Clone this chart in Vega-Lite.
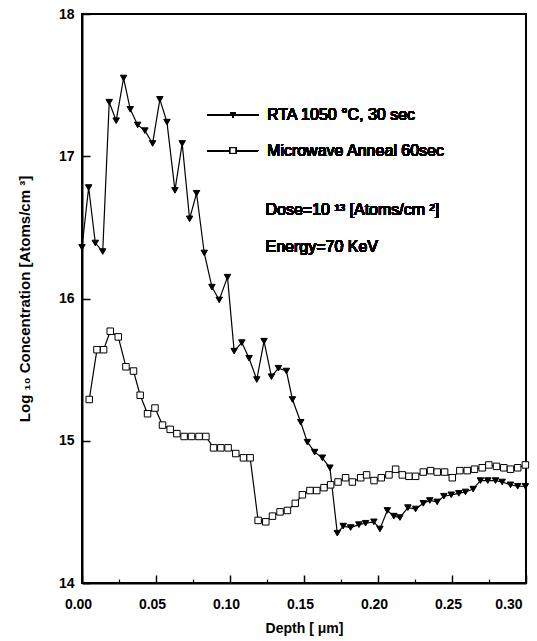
{
  "$schema": "https://vega.github.io/schema/vega-lite/v6.json",
  "width": 444,
  "height": 569,
  "autosize": "none",
  "padding": {"left": 82, "top": 14, "right": 11, "bottom": 58},
  "config": {
    "font": "Liberation Sans",
    "view": {"stroke": "black", "strokeWidth": 2},
    "axis": {
      "domainColor": "black", "domainWidth": 2, "tickColor": "black", "tickWidth": 1.5,
      "tickSize": -8, "grid": false, "labelColor": "black", "labelFont": "Liberation Sans",
      "labelFontSize": 14, "labelFontWeight": "bold", "titleColor": "black",
      "titleFont": "Liberation Sans", "titleFontSize": 14, "titleFontWeight": "bold"
    }
  },
  "resolve": {"axis": {"x": "independent"}},
  "data": {"values": [
    {"series": "RTA", "depth": 0.000, "conc": 16.36},
    {"series": "RTA", "depth": 0.0045, "conc": 16.78},
    {"series": "RTA", "depth": 0.0090, "conc": 16.39},
    {"series": "RTA", "depth": 0.0140, "conc": 16.33},
    {"series": "RTA", "depth": 0.0184, "conc": 17.38},
    {"series": "RTA", "depth": 0.0231, "conc": 17.25},
    {"series": "RTA", "depth": 0.0281, "conc": 17.55},
    {"series": "RTA", "depth": 0.0326, "conc": 17.33},
    {"series": "RTA", "depth": 0.0376, "conc": 17.22},
    {"series": "RTA", "depth": 0.0425, "conc": 17.18},
    {"series": "RTA", "depth": 0.0477, "conc": 17.09},
    {"series": "RTA", "depth": 0.0526, "conc": 17.40},
    {"series": "RTA", "depth": 0.0574, "conc": 17.24},
    {"series": "RTA", "depth": 0.0628, "conc": 16.76},
    {"series": "RTA", "depth": 0.0677, "conc": 17.09},
    {"series": "RTA", "depth": 0.0727, "conc": 16.56},
    {"series": "RTA", "depth": 0.0774, "conc": 16.74},
    {"series": "RTA", "depth": 0.0826, "conc": 16.32},
    {"series": "RTA", "depth": 0.0878, "conc": 16.08},
    {"series": "RTA", "depth": 0.0927, "conc": 15.99},
    {"series": "RTA", "depth": 0.0983, "conc": 16.15},
    {"series": "RTA", "depth": 0.1028, "conc": 15.63},
    {"series": "RTA", "depth": 0.1080, "conc": 15.69},
    {"series": "RTA", "depth": 0.1129, "conc": 15.58},
    {"series": "RTA", "depth": 0.1181, "conc": 15.43},
    {"series": "RTA", "depth": 0.1230, "conc": 15.70},
    {"series": "RTA", "depth": 0.1280, "conc": 15.45},
    {"series": "RTA", "depth": 0.1327, "conc": 15.51},
    {"series": "RTA", "depth": 0.1381, "conc": 15.49},
    {"series": "RTA", "depth": 0.1422, "conc": 15.29},
    {"series": "RTA", "depth": 0.1478, "conc": 15.13},
    {"series": "RTA", "depth": 0.1523, "conc": 14.99},
    {"series": "RTA", "depth": 0.1572, "conc": 14.92},
    {"series": "RTA", "depth": 0.1624, "conc": 14.88},
    {"series": "RTA", "depth": 0.1675, "conc": 14.81},
    {"series": "RTA", "depth": 0.1725, "conc": 14.35},
    {"series": "RTA", "depth": 0.1765, "conc": 14.40},
    {"series": "RTA", "depth": 0.1815, "conc": 14.39},
    {"series": "RTA", "depth": 0.1871, "conc": 14.41},
    {"series": "RTA", "depth": 0.1916, "conc": 14.42},
    {"series": "RTA", "depth": 0.1972, "conc": 14.43},
    {"series": "RTA", "depth": 0.2013, "conc": 14.38},
    {"series": "RTA", "depth": 0.2063, "conc": 14.51},
    {"series": "RTA", "depth": 0.2107, "conc": 14.47},
    {"series": "RTA", "depth": 0.2148, "conc": 14.46},
    {"series": "RTA", "depth": 0.2202, "conc": 14.53},
    {"series": "RTA", "depth": 0.2254, "conc": 14.52},
    {"series": "RTA", "depth": 0.2306, "conc": 14.56},
    {"series": "RTA", "depth": 0.2350, "conc": 14.58},
    {"series": "RTA", "depth": 0.2400, "conc": 14.57},
    {"series": "RTA", "depth": 0.2445, "conc": 14.61},
    {"series": "RTA", "depth": 0.2495, "conc": 14.62},
    {"series": "RTA", "depth": 0.2546, "conc": 14.63},
    {"series": "RTA", "depth": 0.2591, "conc": 14.64},
    {"series": "RTA", "depth": 0.2643, "conc": 14.66},
    {"series": "RTA", "depth": 0.2692, "conc": 14.72},
    {"series": "RTA", "depth": 0.2742, "conc": 14.72},
    {"series": "RTA", "depth": 0.2794, "conc": 14.72},
    {"series": "RTA", "depth": 0.2839, "conc": 14.71},
    {"series": "RTA", "depth": 0.2895, "conc": 14.69},
    {"series": "RTA", "depth": 0.2944, "conc": 14.68},
    {"series": "RTA", "depth": 0.2996, "conc": 14.68},
    {"series": "MW", "depth": 0.0049, "conc": 15.29},
    {"series": "MW", "depth": 0.0101, "conc": 15.64},
    {"series": "MW", "depth": 0.0146, "conc": 15.64},
    {"series": "MW", "depth": 0.0191, "conc": 15.77},
    {"series": "MW", "depth": 0.0245, "conc": 15.73},
    {"series": "MW", "depth": 0.0297, "conc": 15.52},
    {"series": "MW", "depth": 0.0348, "conc": 15.49},
    {"series": "MW", "depth": 0.0393, "conc": 15.32},
    {"series": "MW", "depth": 0.0443, "conc": 15.19},
    {"series": "MW", "depth": 0.0493, "conc": 15.23},
    {"series": "MW", "depth": 0.0544, "conc": 15.11},
    {"series": "MW", "depth": 0.0596, "conc": 15.08},
    {"series": "MW", "depth": 0.0641, "conc": 15.05},
    {"series": "MW", "depth": 0.0690, "conc": 15.03},
    {"series": "MW", "depth": 0.0740, "conc": 15.03},
    {"series": "MW", "depth": 0.0791, "conc": 15.03},
    {"series": "MW", "depth": 0.0837, "conc": 15.03},
    {"series": "MW", "depth": 0.0889, "conc": 14.95},
    {"series": "MW", "depth": 0.0938, "conc": 14.95},
    {"series": "MW", "depth": 0.0987, "conc": 14.95},
    {"series": "MW", "depth": 0.1039, "conc": 14.91},
    {"series": "MW", "depth": 0.1091, "conc": 14.88},
    {"series": "MW", "depth": 0.1136, "conc": 14.88},
    {"series": "MW", "depth": 0.1190, "conc": 14.44},
    {"series": "MW", "depth": 0.1242, "conc": 14.43},
    {"series": "MW", "depth": 0.1287, "conc": 14.47},
    {"series": "MW", "depth": 0.1338, "conc": 14.50},
    {"series": "MW", "depth": 0.1388, "conc": 14.51},
    {"series": "MW", "depth": 0.1441, "conc": 14.56},
    {"series": "MW", "depth": 0.1489, "conc": 14.62},
    {"series": "MW", "depth": 0.1540, "conc": 14.65},
    {"series": "MW", "depth": 0.1586, "conc": 14.65},
    {"series": "MW", "depth": 0.1635, "conc": 14.67},
    {"series": "MW", "depth": 0.1680, "conc": 14.69},
    {"series": "MW", "depth": 0.1730, "conc": 14.71},
    {"series": "MW", "depth": 0.1781, "conc": 14.74},
    {"series": "MW", "depth": 0.1827, "conc": 14.71},
    {"series": "MW", "depth": 0.1883, "conc": 14.74},
    {"series": "MW", "depth": 0.1923, "conc": 14.76},
    {"series": "MW", "depth": 0.1973, "conc": 14.72},
    {"series": "MW", "depth": 0.2022, "conc": 14.74},
    {"series": "MW", "depth": 0.2074, "conc": 14.76},
    {"series": "MW", "depth": 0.2119, "conc": 14.80},
    {"series": "MW", "depth": 0.2164, "conc": 14.76},
    {"series": "MW", "depth": 0.2209, "conc": 14.75},
    {"series": "MW", "depth": 0.2254, "conc": 14.75},
    {"series": "MW", "depth": 0.2306, "conc": 14.78},
    {"series": "MW", "depth": 0.2355, "conc": 14.79},
    {"series": "MW", "depth": 0.2400, "conc": 14.78},
    {"series": "MW", "depth": 0.2450, "conc": 14.78},
    {"series": "MW", "depth": 0.2502, "conc": 14.74},
    {"series": "MW", "depth": 0.2553, "conc": 14.79},
    {"series": "MW", "depth": 0.2603, "conc": 14.79},
    {"series": "MW", "depth": 0.2652, "conc": 14.80},
    {"series": "MW", "depth": 0.2704, "conc": 14.81},
    {"series": "MW", "depth": 0.2749, "conc": 14.83},
    {"series": "MW", "depth": 0.2801, "conc": 14.82},
    {"series": "MW", "depth": 0.2850, "conc": 14.81},
    {"series": "MW", "depth": 0.2895, "conc": 14.80},
    {"series": "MW", "depth": 0.2944, "conc": 14.81},
    {"series": "MW", "depth": 0.2996, "conc": 14.83}
  ]},
  "encoding": {
    "y": {"field": "conc", "type": "quantitative", "title": "Log ₁₀ Concentration [Atoms/cm ³]",
      "scale": {"domain": [14, 18], "nice": false, "zero": false},
      "axis": {"values": [14, 15, 16, 17, 18], "labelPadding": 16, "titlePadding": 26, "labelFlush": false, "titleFontSize": 15}}
  },
  "layer": [
    {"mark": {"type": "line", "color": "black", "strokeWidth": 1.2},
     "encoding": {
       "x": {"field": "depth", "type": "quantitative", "title": "Depth [  μm]",
         "scale": {"domain": [0, 0.3], "nice": false, "zero": false},
         "axis": {"orient": "bottom", "values": [0, 0.05, 0.1, 0.15, 0.2, 0.25, 0.3], "format": ".2f", "labelPadding": 22, "titlePadding": 10, "labelFlush": false, "labelOffset": -4,
           "labelAlign": {"condition": {"test": "datum.value >= 0.29", "value": "right"}, "value": "center"}}},
       "detail": {"field": "series"}}},
    {"mark": {"type": "point", "opacity": 0},
     "encoding": {
       "x": {"field": "depth", "type": "quantitative",
         "axis": {"orient": "bottom", "values": [0.025, 0.075, 0.125, 0.175, 0.225, 0.275], "labels": false, "domain": false, "title": null, "tickSize": -4, "tickWidth": 1.2}}}},
    {"mark": {"type": "point", "opacity": 1, "strokeWidth": 1, "stroke": "black", "size": 42},
     "encoding": {
       "x": {"field": "depth", "type": "quantitative", "axis": null},
       "shape": {"field": "series", "scale": {"domain": ["RTA", "MW"], "range": ["triangle-down", "square"]}, "legend": null},
       "fill": {"field": "series", "scale": {"domain": ["RTA", "MW"], "range": ["black", "white"]}, "legend": null}
     }},
    {"mark": {"type": "rule", "color": "black", "strokeWidth": 1.2},
     "encoding": {"x": {"datum": 0.085, "axis": null}, "x2": {"datum": 0.119}, "y": {"datum": 17.29}}},
    {"mark": {"type": "rule", "color": "black", "strokeWidth": 1.2},
     "encoding": {"x": {"datum": 0.085, "axis": null}, "x2": {"datum": 0.119}, "y": {"datum": 17.04}}},
    {"mark": {"type": "point", "shape": "triangle-down", "filled": true, "color": "black", "size": 32, "opacity": 1},
     "encoding": {"x": {"datum": 0.102, "axis": null}, "y": {"datum": 17.29}}},
    {"mark": {"type": "point", "shape": "square", "fill": "white", "stroke": "black", "strokeWidth": 1, "size": 32, "opacity": 1},
     "encoding": {"x": {"datum": 0.102, "axis": null}, "y": {"datum": 17.04}}},
    {"mark": {"type": "text", "align": "left", "baseline": "middle", "fontSize": 16, "color": "black", "font": "Liberation Sans"},
     "encoding": {"x": {"datum": 0.125, "axis": null}, "y": {"datum": 17.29}, "text": {"value": "RTA 1050   °C, 30 sec"}}},
    {"mark": {"type": "text", "align": "left", "baseline": "middle", "fontSize": 16, "color": "black", "font": "Liberation Sans"},
     "encoding": {"x": {"datum": 0.125, "axis": null}, "y": {"datum": 17.04}, "text": {"value": "Microwave Anneal 60sec"}}},
    {"mark": {"type": "text", "align": "left", "baseline": "middle", "fontSize": 16, "color": "black", "font": "Liberation Sans"},
     "encoding": {"x": {"datum": 0.124, "axis": null}, "y": {"datum": 16.62}, "text": {"value": "Dose=10 ¹³ [Atoms/cm ²]"}}},
    {"mark": {"type": "text", "align": "left", "baseline": "middle", "fontSize": 16, "color": "black", "font": "Liberation Sans"},
     "encoding": {"x": {"datum": 0.124, "axis": null}, "y": {"datum": 16.36}, "text": {"value": "Energy=70 KeV"}}}
  ]
}
